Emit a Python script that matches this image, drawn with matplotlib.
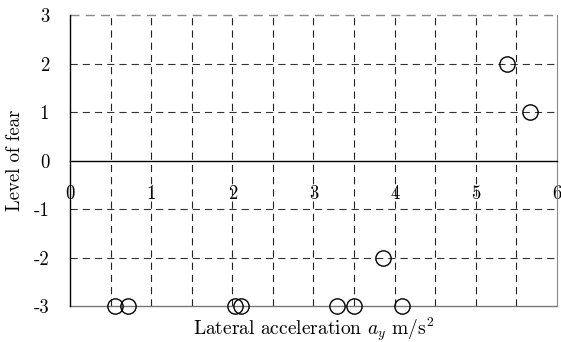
import matplotlib
matplotlib.use("Agg")
import matplotlib.pyplot as plt

plt.rcParams['font.family'] = ['cmr10', 'DejaVu Serif']
plt.rcParams['mathtext.fontset'] = 'cm'
plt.rcParams['axes.unicode_minus'] = False

accel = [5.38, 5.67, 3.86, 0.55, 0.71, 2.03, 2.11, 3.29, 3.50, 4.09]
fear = [2, 1, -2, -3, -3, -3, -3, -3, -3, -3]
xticks = [0, 1, 2, 3, 4, 5, 6]
yticks = [-3, -2, -1, 0, 1, 2, 3]
ytick_labels = ['-3', '-2', '-1', '0', '1', '2', '3']

fig = plt.figure(figsize=(5.61, 3.42), dpi=100)
ax = fig.add_axes([0.1248, 0.105, 0.868, 0.851])
ax.set_xlim(0, 6)
ax.set_ylim(-3, 3)

dash = (0, (6.5, 4.5))
for gx in [i * 0.5 for i in range(1, 12)]:
    ax.axvline(gx, color='#222222', lw=0.8, ls=dash, zorder=1)
for gy in [-2, -1, 1, 2]:
    ax.axhline(gy, color='#333333', lw=0.8, ls=dash, zorder=1)
ax.axhline(3, color='#888888', lw=1.0, ls=dash, zorder=1, clip_on=False)
ax.axhline(-3, color='#777777', lw=1.0, zorder=1, clip_on=False)

ax.plot(accel, fear, 'o', mfc='none', mec='black', mew=1.0, ms=11,
        ls='none', clip_on=False, zorder=3)

ax.spines['top'].set_visible(False)
ax.spines['right'].set_color('#888888')
ax.spines['bottom'].set_position(('data', 0))
ax.spines['bottom'].set_linewidth(1.0)
ax.spines['left'].set_linewidth(1.0)

ax.set_xticks(xticks)
ax.set_xticklabels([str(t) for t in xticks])
ax.tick_params(axis='x', length=0, pad=18, labelsize=13.5)
ax.set_yticks(yticks)
ax.set_yticklabels(ytick_labels)
ax.tick_params(axis='y', length=0, pad=15, labelsize=13.5)

ax.set_xlabel(r'Lateral acceleration $a_y$ m/s$^2$', fontsize=14)
ax.xaxis.set_label_coords(0.5, -0.033)
ax.set_ylabel('Level of fear', fontsize=13.5)
ax.yaxis.set_label_coords(-0.095, 0.5)

fig.savefig('out.png', dpi=100)
